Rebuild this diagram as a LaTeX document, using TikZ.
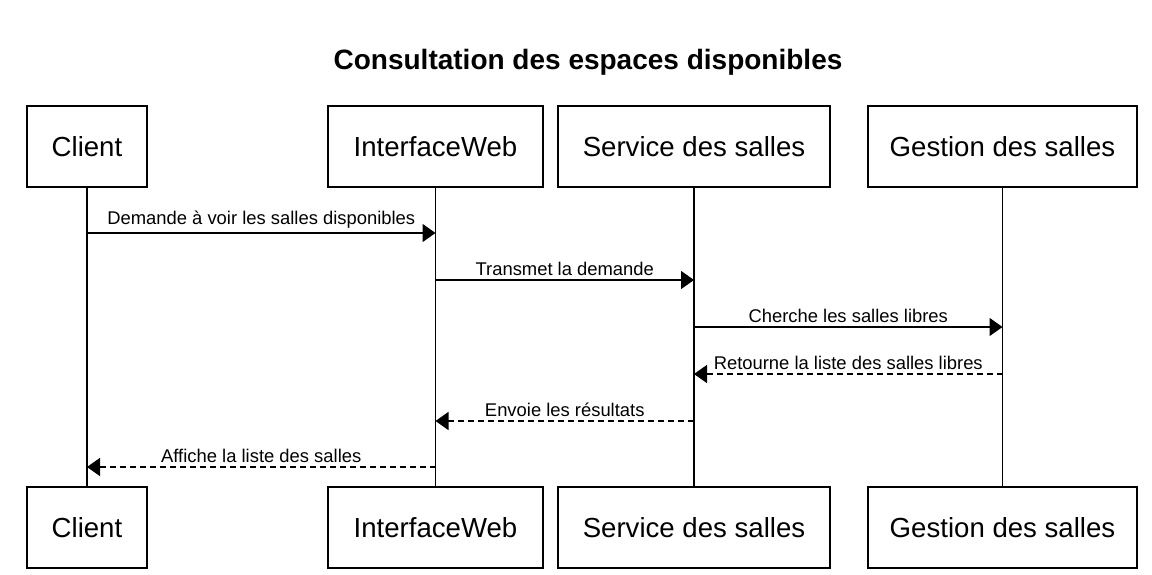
\documentclass[tikz,border=0pt]{standalone}
\usepackage{fontspec}
\setmainfont{Liberation Sans}
\usetikzlibrary{arrows.meta}
\begin{document}
\begin{tikzpicture}[x=0.5pt,y=-0.5pt,
  actor/.style={draw,line width=0.7pt,minimum height=40.5pt,inner sep=0pt,font=\fontsize{13.8}{16}\selectfont},
  life/.style={line width=0.7pt},
  msg/.style={line width=0.7pt,-{Triangle[length=6.5pt,width=9pt]}},
  reply/.style={msg,dash pattern=on 3pt off 2pt},
  lbl/.style={above,inner sep=2pt,font=\fontsize{9.2}{11}\selectfont}]
\useasboundingbox (0,0) rectangle (1152,574);
\node[font=\bfseries\fontsize{14}{17}\selectfont] (title) at (588,62) {Consultation des espaces disponibles};
% top actors
\node[actor,minimum width=60pt] (cT) at (87,146.5) {Client};
\node[actor,minimum width=107.5pt] (iT) at (435.5,146.5) {InterfaceWeb};
\node[actor,minimum width=136pt] (sT) at (694,146.5) {Service des salles};
\node[actor,minimum width=134.5pt] (gT) at (1002.5,146.5) {Gestion des salles};
% bottom actors
\node[actor,minimum width=60pt] (cB) at (87,527.5) {Client};
\node[actor,minimum width=107.5pt] (iB) at (435.5,527.5) {InterfaceWeb};
\node[actor,minimum width=136pt] (sB) at (694,527.5) {Service des salles};
\node[actor,minimum width=134.5pt] (gB) at (1002.5,527.5) {Gestion des salles};
% lifelines
\draw[life] (cT) -- (cB);
\draw[life] (iT) -- (iB);
\draw[life] (sT) -- (sB);
\draw[life] (gT) -- (gB);
% message rows
\coordinate (y1) at (0,233);
\coordinate (y2) at (0,280);
\coordinate (y3) at (0,327);
\coordinate (y4) at (0,374);
\coordinate (y5) at (0,421);
\coordinate (y6) at (0,467);
\draw[msg] (cT.south |- y1) -- node[lbl] {Demande à voir les salles disponibles} (iT.south |- y1);
\draw[msg] (iT.south |- y2) -- node[lbl] {Transmet la demande} (sT.south |- y2);
\draw[msg] (sT.south |- y3) -- node[lbl] {Cherche les salles libres} (gT.south |- y3);
\draw[reply] (gT.south |- y4) -- node[lbl] {Retourne la liste des salles libres} (sT.south |- y4);
\draw[reply] (sT.south |- y5) -- node[lbl] {Envoie les résultats} (iT.south |- y5);
\draw[reply] (iT.south |- y6) -- node[lbl] {Affiche la liste des salles} (cT.south |- y6);
\end{tikzpicture}
\end{document}
